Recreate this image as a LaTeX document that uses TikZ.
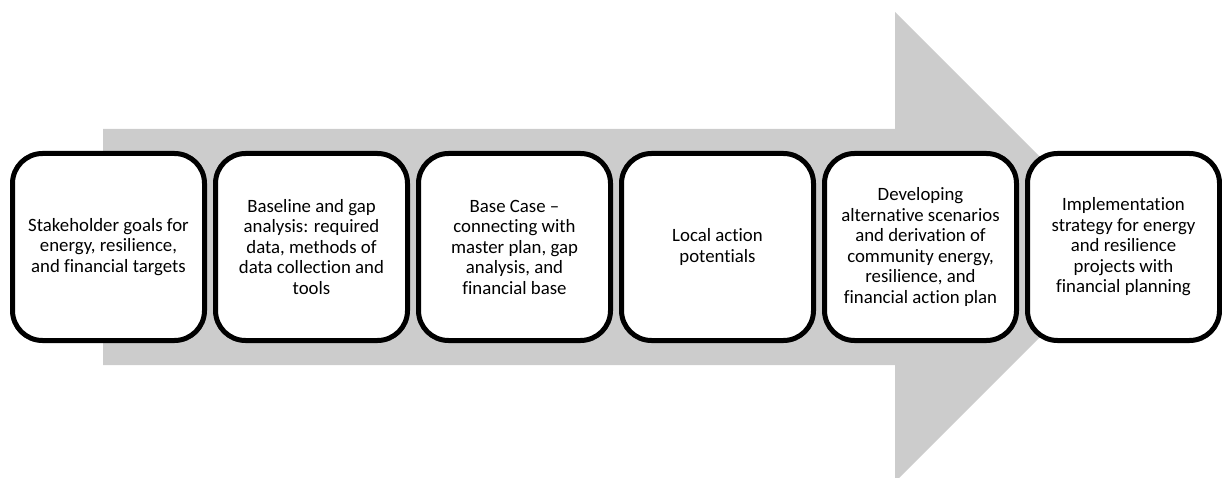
\documentclass[tikz,border=0pt]{standalone}
\usepackage{fontspec}
\setmainfont{Carlito}[Ligatures=NoCommon]
\usetikzlibrary{positioning}
\definecolor{arrowgray}{RGB}{204,204,204}

\begin{document}
\begin{tikzpicture}[x=1pt,y=1pt,font=\fontsize{18.8}{20.5}\selectfont,
  stepbox/.style={draw=black, line width=5pt, fill=white, rounded corners=30pt,
    minimum width=192pt, minimum height=187pt, align=center, inner sep=2pt},
  node distance=6pt]

\clip (0,0) rectangle (1222,477);

% big arrow behind the steps
\fill[arrowgray] (103,348) -- (895,348) -- (895,465) -- (1130,230)
  -- (895,-5) -- (895,112) -- (103,112) -- cycle;

\node[stepbox] (goals) at (108.5,230) {Stakeholder goals for\\energy, resilience,\\and financial targets};
\node[stepbox, right=of goals] (baseline) {Baseline and gap\\analysis: required\\data, methods of\\data collection and\\tools};
\node[stepbox, right=of baseline] (basecase) {Base Case --\\connecting with\\master plan, gap\\analysis, and\\financial base};
\node[stepbox, right=of basecase] (local) {Local action\\potentials};
\node[stepbox, right=of local] (scenarios) {Developing\\alternative scenarios\\and derivation of\\community energy,\\resilience, and\\financial action plan};
\node[stepbox, right=of scenarios] (implement) {Implementation\\strategy for energy\\and resilience\\projects with\\financial planning};

\end{tikzpicture}
\end{document}
